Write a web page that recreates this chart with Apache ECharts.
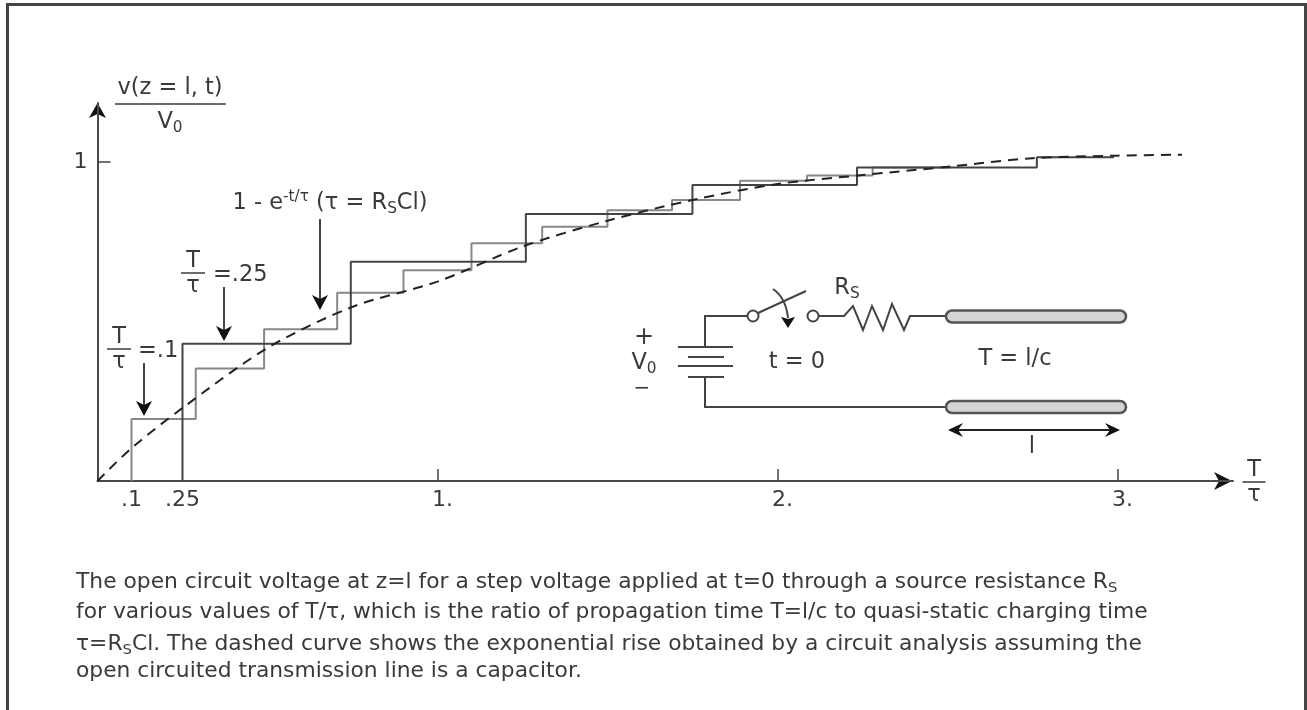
<!DOCTYPE html>
<html>
<head>
<meta charset="utf-8">
<style>
html,body{margin:0;padding:0;background:#fff}
#main{width:1307px;height:710px;filter:blur(0.45px)}
</style>
<script src="https://cdn.jsdelivr.net/npm/echarts@6/dist/echarts.min.js"></script>
</head>
<body>
<div id="main"></div>
<script>
// step response T/tau = .25 (dark)
const darkX = [0.25, 0.25, 0.745, 1.26, 1.75, 2.234, 2.763, 2.99]
const darkY = [0, 0.43, 0.687, 0.837, 0.928, 0.983, 1.015, 1.015]
// step response T/tau = .1 (light)
const lightX = [0.1, 0.1, 0.289, 0.49, 0.705, 0.90, 1.10, 1.308, 1.50, 1.69, 1.89, 2.087, 2.28, 2.51]
const lightY = [0, 0.194, 0.353, 0.476, 0.59, 0.661, 0.745, 0.797, 0.849, 0.881, 0.941, 0.958, 0.983, 0.983]
// dashed curve
const curveX = [0, 0.1, 0.25, 0.5, 0.75, 1.0, 1.25, 1.5, 1.75, 2.0, 2.25, 2.5, 2.75, 3.0, 3.19]
const curveY = [0, 0.103, 0.229, 0.417, 0.546, 0.625, 0.735, 0.816, 0.881, 0.931, 0.959, 0.985, 1.012, 1.02, 1.023]
const xLabels = [0.1, 0.25, 1, 2, 3]
const xTicks = [1, 2, 3]
const yTicks = [1]
const captionLines = [
	"The open circuit voltage at z=l for a step voltage applied at t=0 through a source resistance R{sub|S}",
	"for various values of T/τ, which is the ratio of propagation time T=l/c to quasi-static charging time",
	"τ=R{sub|S}Cl. The dashed curve shows the exponential rise obtained by a circuit analysis assuming the",
	"open circuited transmission line is a capacitor."
]
const captionY = [582, 612, 644, 671]

const font = "'DejaVu Sans', Verdana, sans-serif"
const ink = "#3a3a3a"
const zip = (xs, ys) => xs.map((x, i) => [x, ys[i]])

//文字
const text = (x, y, str, size, extra) => ({
	type: "text", x: x, y: y,
	style: Object.assign({
		text: str, fill: ink, fontFamily: font, fontSize: size, verticalAlign: "middle", align: "center",
		rich: {
			sub: { fontSize: size * 0.68, fontFamily: font, fill: ink, padding: [size * 0.55, 0, 0, 0] },
			sup: { fontSize: size * 0.68, fontFamily: font, fill: ink, padding: [0, 0, size * 0.55, 0] },
			t: { fontSize: size, fontFamily: font, fill: ink }
		}
	}, extra)
})
const line = (x1, y1, x2, y2, width, color) => ({
	type: "line", shape: { x1, y1, x2, y2 },
	style: { stroke: color || "#444", lineWidth: width || 2 }
})
const poly = (points, width, color) => ({
	type: "polyline", shape: { points },
	style: { stroke: color || "#444", lineWidth: width || 2, fill: null, lineJoin: "miter" }
})
const head = (points) => ({ type: "polygon", shape: { points }, style: { fill: "#111" } })
// 向下箭头
const downArrow = (x, y1, y2) => [
	line(x, y1, x, y2 - 8, 2, "#444"),
	head([[x - 8, y2 - 15], [x, y2 - 11], [x + 8, y2 - 15], [x, y2]])
]
const fraction = (x, y, top, bottom, w) => [
	text(x, y - 12, top, 22.5),
	line(x - w / 2, y, x + w / 2, y, 1.5, ink),
	text(x, y + 13, bottom, 22.5)
]
const bar = (y) => ({
	type: "rect", shape: { x: 946, y: y - 6, width: 180, height: 12, r: 6 },
	style: { fill: "#d4d4d4", stroke: "#555", lineWidth: 2.5 }
})
const terminal = (x, y) => ({
	type: "circle", shape: { cx: x, cy: y, r: 5.5 }, style: { fill: "#fff", stroke: "#444", lineWidth: 2 }
})

const graphic = [
	// 外框
	poly([[7.5, 710], [7.5, 4.5], [1305.5, 4.5], [1305.5, 710]], 3, "#444"),
	// 纵轴标题
	text(170, 88, "v(z = l, t)", 22.5),
	line(115, 104, 226, 104, 1.5, ink),
	text(170, 122, "{t|V}{sub|0}", 22.5),
	// 标注
	...fraction(119, 349, "T", "τ", 24),
	text(138, 351, "=.1", 22.5, { align: "left" }),
	...fraction(193, 273, "T", "τ", 24),
	text(213, 275, "=.25", 22.5, { align: "left" }),
	text(330, 203, "{t|1 - e}{sup|-t/τ}{t| (τ = R}{sub|S}{t|Cl)}", 22.5),
	...downArrow(144, 363, 416),
	...downArrow(224, 287, 341),
	...downArrow(320, 219, 310),
	// 坐标轴箭头
	head([[97.5, 103], [106, 118], [97.5, 114], [89, 118]]),
	head([[1232, 481], [1214, 472], [1219, 481], [1214, 490]]),
	// 电路
	poly([[748, 316], [705, 316], [705, 347]]),
	poly([[705, 377], [705, 407], [946, 407]]),
	line(678, 347, 733, 347),
	line(688, 357, 724, 357),
	line(678, 366, 733, 366),
	line(688, 377, 724, 377),
	line(758, 313, 806, 291),
	terminal(753, 316),
	terminal(813, 316),
	poly([[819, 316], [844, 316], [853, 306], [863, 330], [872, 306], [883, 330], [892, 304], [904, 330], [910, 316], [946, 316]]),
	{ type: "bezierCurve", shape: { x1: 773, y1: 289, cpx1: 786, cpy1: 298, x2: 788, y2: 318 }, style: { stroke: "#444", lineWidth: 2, fill: null } },
	head([[781, 317], [788, 319], [795, 317], [788, 328]]),
	bar(316.5),
	bar(407),
	line(952, 430, 1117, 430, 2, "#222"),
	head([[948, 430], [963, 423], [958, 430], [963, 437]]),
	head([[1120, 430], [1105, 423], [1110, 430], [1105, 437]]),
	text(644, 338, "+", 24),
	text(644, 363, "{t|V}{sub|0}", 22.5),
	text(642, 389, "−", 20),
	text(797, 362, "t = 0", 22.5),
	text(1015, 359, "T = l/c", 22.5),
	text(1032, 447, "l", 22.5),
	text(847, 288, "{t|R}{sub|S}", 22.5),
	// 横轴标题
	...fraction(1254, 482, "T", "τ", 23),
	// 说明文字
	...captionLines.map((s, i) => text(76, captionY[i], s, 21.8, { align: "left" }))
]

const axisLine = { show: true, onZero: true, lineStyle: { color: "#4a4a4a", width: 2 }, symbol: ["none", "none"] }

const option = {
	animation: false,
	backgroundColor: "#fff",
	textStyle: { fontFamily: font },
	grid: { left: 97.5, right: 74, top: 103, bottom: 229, containLabel: false },
	xAxis: {
		type: "value", min: 0, max: 3.34, splitLine: { show: false },
		axisLine: axisLine,
		axisTick: { show: true, inside: true, length: 12, customValues: xTicks, lineStyle: { color: "#444", width: 1.5 } },
		axisLabel: {
			customValues: xLabels, margin: 8, fontSize: 22, color: ink, fontFamily: font,
			formatter: (v) => v < 1 ? String(v).slice(1) : "{n|" + v + ".}",
			rich: { n: { fontSize: 22, color: ink, fontFamily: font, padding: [0, 0, 0, 10] } }
		}
	},
	yAxis: {
		type: "value", min: 0, max: 1.185, splitLine: { show: false },
		axisLine: axisLine,
		axisTick: { show: true, inside: true, length: 13, customValues: yTicks, lineStyle: { color: "#444", width: 1.5 } },
		axisLabel: { customValues: yTicks, margin: 10, fontSize: 22, color: ink, fontFamily: font, formatter: (v) => String(v) }
	},
	series: [
		{ name: "T/τ=.1", type: "line", step: "end", showSymbol: false, data: zip(lightX, lightY), lineStyle: { color: "#888", width: 2 }, z: 2 },
		{ name: "T/τ=.25", type: "line", step: "end", showSymbol: false, data: zip(darkX, darkY), lineStyle: { color: "#444", width: 2 }, z: 3 },
		{ name: "1-e^(-t/τ)", type: "line", smooth: 0.3, showSymbol: false, data: zip(curveX, curveY), lineStyle: { color: "#222", width: 2, type: [10, 7] }, z: 4 }
	],
	graphic: { elements: graphic }
}

const myChart = echarts.init(document.getElementById("main"))
myChart.setOption(option)
</script>
</body>
</html>
